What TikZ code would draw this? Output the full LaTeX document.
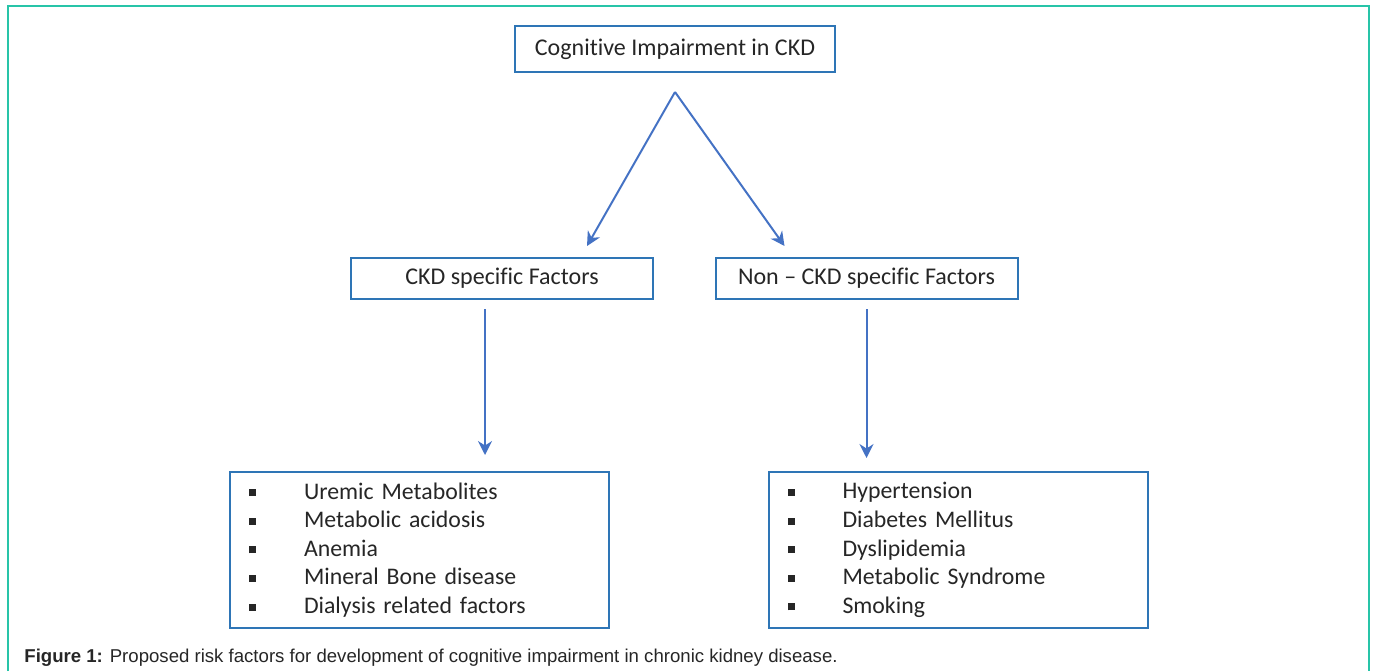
\documentclass[tikz,border=0pt]{standalone}
\usepackage{fontspec}
\setmainfont{Carlito}[Ligatures=NoCommon]
\newfontfamily\captionfont{Liberation Sans}
\usepackage{xcolor}
\usepackage{tikz}
\usetikzlibrary{arrows.meta,positioning}
\definecolor{boxblue}{RGB}{46,117,182}
\definecolor{arrowblue}{RGB}{68,114,196}
\definecolor{frameteal}{RGB}{40,196,168}
\definecolor{textgray}{RGB}{38,38,38}
\newcommand{\sqbullet}{\makebox[27.5pt][l]{\rule[1.5pt]{3.5pt}{3.5pt}}}

\begin{document}
\begin{tikzpicture}[x=0.5pt,y=-0.5pt,>={Stealth[length=7pt,width=7pt]},
  box/.style={draw=boxblue,line width=1pt,text=textgray,font=\fontsize{12}{13}\selectfont,inner sep=0pt},
  listbox/.style={box,align=left,text width=170.5pt,minimum height=78pt,inner xsep=9.5pt,font=\fontsize{11.9}{14.3}\selectfont},
  link/.style={->,arrowblue,line width=1pt}]
  \useasboundingbox (0,0) rectangle (1375,671);
  \draw[frameteal,line width=1pt] (8,671) -- (8,6) -- (1369,6) -- (1369,671);
  % boxes
  \node[box,minimum width=160pt,minimum height=23pt] (cogn) at (675,49) {Cognitive Impairment in CKD};
  \node[box,minimum width=151pt,minimum height=20.5pt] (ckd) at (502,278.5) {CKD specific Factors};
  \node[box,minimum width=151pt,minimum height=20.5pt] (nonckd) at (866.5,278.5) {Non -- CKD specific Factors};
  \node[listbox] (listL) at (419.5,550) {\sqbullet Uremic Metabolites\\ \sqbullet Metabolic acidosis\\ \sqbullet Anemia\\ \sqbullet Mineral Bone disease\\ \sqbullet Dialysis related factors};
  \node[listbox] (listR) at (958,550) {\sqbullet Hypertension\\ \sqbullet Diabetes Mellitus\\ \sqbullet Dyslipidemia\\ \sqbullet Metabolic Syndrome\\ \sqbullet Smoking};
  % arrows
  \coordinate (apex) at (675,92);
  \draw[link] (apex) -- ([xshift=42.5pt,yshift=5.5pt]ckd.north);
  \draw[link] (apex) -- ([xshift=-41pt,yshift=5.5pt]nonckd.north);
  \draw[link,shorten >=8pt] ([xshift=-8.5pt,yshift=-4.5pt]ckd.south) -- ([xshift=-8.5pt]ckd.south |- listL.north);
  \draw[link,shorten >=6.5pt] ([yshift=-4.5pt]nonckd.south) -- (nonckd.south |- listR.north);
  % caption
  \node[anchor=base west,inner sep=0pt,text=textgray,font=\captionfont\fontsize{9.3}{11}\selectfont] (caption) at (24,662)
    {\textbf{Figure 1:} Proposed risk factors for development of cognitive impairment in chronic kidney disease.};
\end{tikzpicture}
\end{document}
